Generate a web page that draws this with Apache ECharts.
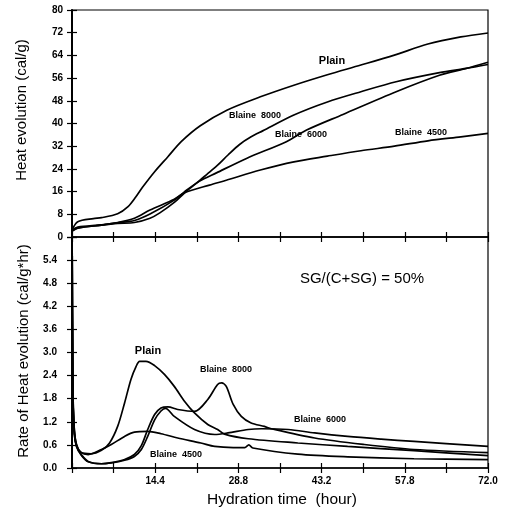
<!DOCTYPE html>
<html><head><meta charset="utf-8">
<script src="https://cdn.jsdelivr.net/npm/echarts@6/dist/echarts.min.js"></script>
<style>html,body{margin:0;padding:0;background:#fff}#c{width:511px;height:512px}</style>
</head><body><div id="c"></div>
<script>
// ---- tick labels ----
const xTickLabels = ["", "", "14.4", "", "28.8", "", "43.2", "", "57.8", "", "72.0"];
const heatTicks = [0, 8, 16, 24, 32, 40, 48, 56, 64, 72, 80];
const rateTicks = ["0.0", "0.6", "1.2", "1.8", "2.4", "3.0", "3.6", "4.2", "4.8", "5.4", ""];
const seriesNames = ["Plain", "Blaine 8000", "Blaine 6000", "Blaine 4500"];

// ---- heat evolution (cal/g) vs hydration time (hour) ----
const heatPlain = [[0,2.5],[1.0,5.4],[3.7,6.5],[5.1,6.8],[7.9,8.2],[9.7,10.7],[11,14.0],[12.2,17.5],[14.3,23.0],[16.6,28.3],[18.9,33.6],[22.2,39.2],[26.8,44.7],[32.6,49.4],[38.4,53.5],[44.2,57.2],[50,60.6],[55.8,64.1],[61.6,68.0],[67.3,70.5],[72,71.9]];
const heat8000 = [[0,2.0],[1.0,3.1],[5.1,4.2],[7.9,4.8],[10.8,5.1],[13.5,6.6],[15.2,8.5],[17.7,12.2],[19.5,15.6],[21.5,18.9],[23.3,22.0],[25.2,25.3],[27,28.9],[29,32.6],[31,35.3],[33,37.4],[38.4,43],[44.2,47.6],[50,51.2],[56.1,54.7],[63.6,57.9],[68.2,59.4],[72,60.8]];
const heat6000 = [[0,2.2],[1.0,3.2],[5.1,4.2],[7.9,5.0],[10.8,5.8],[13.5,8.1],[17.7,13.0],[19.5,16.0],[22,19.6],[25,22.6],[30.2,27.7],[37.1,33.6],[40.6,37.7],[46.9,43.2],[56.1,51.2],[63.6,57.0],[68.2,59.4],[72,61.6]];
const heat4500 = [[0,2.5],[1.0,3.5],[5.1,4.3],[7.9,5.1],[10.8,6.6],[13.5,9.5],[17.7,13.3],[19.5,15.6],[23.8,18.3],[26.7,20.0],[32.6,23.6],[38.4,26.5],[44.2,28.5],[50,30.4],[55.8,32.0],[61.6,33.9],[67.3,35.3],[72,36.5]];

// ---- rate of heat evolution (cal/g*hr) vs hydration time (hour) ----
const ratePlain = [[0,7],[0.15,2.2],[0.4,1.0],[0.8,0.6],[1.6,0.4],[3.3,0.37],[5.1,0.46],[6.5,0.65],[7.9,1.08],[9.1,1.69],[10.2,2.30],[11.1,2.64],[11.7,2.77],[12.8,2.77],[14.3,2.66],[16.0,2.43],[17.7,2.12],[19.5,1.73],[21.2,1.43],[23.5,1.13],[25.2,1.0],[26.4,0.88],[30.5,0.76],[39.1,0.65],[47.7,0.56],[59.2,0.45],[72,0.32]];
const rate8000 = [[0,7],[0.15,2.0],[0.4,0.9],[0.8,0.55],[1.6,0.33],[2.8,0.16],[5.1,0.11],[6.8,0.14],[9.1,0.22],[10.8,0.35],[12,0.58],[13.1,1.0],[14.3,1.39],[15.4,1.56],[16.6,1.59],[18.3,1.52],[21.2,1.47],[23.5,1.78],[25.2,2.17],[25.9,2.21],[26.7,2.12],[27.9,1.65],[29.3,1.34],[31,1.17],[33.3,1.08],[34.5,1.02],[42,0.78],[50.6,0.61],[59.2,0.48],[72,0.40]];
const rate6000 = [[0,7],[0.15,2.0],[0.4,0.9],[0.8,0.55],[1.6,0.35],[2.8,0.17],[5.1,0.11],[6.8,0.13],[9.1,0.20],[10.8,0.30],[12,0.48],[13.1,0.82],[14.3,1.25],[15.4,1.48],[16.2,1.55],[17.7,1.34],[21.2,1.0],[24.7,0.87],[27,0.91],[30.5,1.0],[32.8,1.02],[37.4,1.0],[42,0.91],[47.7,0.82],[53.5,0.75],[59.2,0.69],[72,0.56]];
const rate4500 = [[0,7],[0.15,2.1],[0.4,1.0],[0.8,0.6],[1.6,0.40],[2.8,0.35],[5.1,0.48],[6.8,0.61],[9.1,0.82],[10.8,0.93],[13.1,0.95],[15.4,0.89],[18.3,0.78],[22.3,0.65],[24.7,0.56],[27.9,0.53],[29.9,0.53],[30.6,0.60],[31.3,0.52],[39.1,0.36],[47.7,0.29],[59.2,0.24],[72,0.22]];

const chart = echarts.init(document.getElementById('c'), null, {renderer: 'canvas'});
const FONT = 'Liberation Sans, Arial, sans-serif';
const lineW = 1.7;
const tickStyle = {color: '#000', width: 1.2};
const lab = {color: '#000', fontFamily: FONT, fontSize: 10, fontWeight: 'bold'};

function xAx(grid, inside, showLabel) {
  return {
    gridIndex: grid, type: 'value', min: 0, max: 72, interval: 7.2, position: 'bottom',
    axisLine: {show: !inside, onZero: false, lineStyle: {color: '#000', width: 1.5}},
    axisTick: {show: true, inside: inside, length: 5, lineStyle: tickStyle},
    axisLabel: {show: showLabel, ...lab, margin: 8,
      formatter: v => xTickLabels[Math.round(v / 7.2)] || ''},
    splitLine: {show: false}
  };
}
function yAx(grid, inside, max, interval, fmt, margin) {
  return {
    gridIndex: grid, type: 'value', min: 0, max: max, interval: interval, position: 'left',
    axisLine: {show: !inside, onZero: false, lineStyle: {color: '#000', width: 2}},
    axisTick: {show: true, inside: inside, length: 5, lineStyle: tickStyle},
    axisLabel: {show: !inside && !!fmt, ...lab, margin: margin, formatter: fmt},
    splitLine: {show: false}
  };
}
function ser(data, xi, yi) {
  return {type: 'line', data: data, xAxisIndex: xi, yAxisIndex: yi, symbol: 'none',
    smooth: 0.3, clip: true, lineStyle: {color: '#000', width: lineW}};
}
function txt(text, x, y, size, weight, rot) {
  return {type: 'text', x: x, y: y, rotation: rot || 0, z: 100,
    style: {text: text, x: 0, y: 0, fill: '#000', font: (weight || 'normal') + ' ' + size + 'px ' + FONT,
      textAlign: 'center', textVerticalAlign: 'middle'}};
}

chart.setOption({
  backgroundColor: '#fff',
  animation: false,
  grid: [
    {left: 72, top: 10, width: 416, height: 227, show: true, borderColor: '#000', borderWidth: 1.2},
    {left: 72, top: 237, width: 416, height: 231, show: true, borderColor: '#000', borderWidth: 1.2}
  ],
  xAxis: [xAx(0, false, false), xAx(0, true, false), xAx(1, false, true), xAx(1, true, false)],
  yAxis: [
    yAx(0, false, 80, 8, v => String(heatTicks[Math.round(v / 8)]), 9),
    yAx(0, true, 80, 8, null, 9),
    yAx(1, false, 6, 0.6, v => rateTicks[Math.round(v / 0.6)], 15),
    yAx(1, true, 6, 0.6, null, 15)
  ],
  series: [
    ser(heatPlain, 0, 0), ser(heat8000, 0, 0), ser(heat6000, 0, 0), ser(heat4500, 0, 0),
    ser(ratePlain, 2, 2), ser(rate8000, 2, 2), ser(rate6000, 2, 2), ser(rate4500, 2, 2)
  ],
  graphic: [
    txt('Heat evolution (cal/g)', 22, 110, 15, 'normal', Math.PI / 2),
    txt('Rate of Heat evolution (cal/g*hr)', 24, 351, 15, 'normal', Math.PI / 2),
    txt('Hydration time  (hour)', 282, 500, 15.5, 'normal'),
    txt('SG/(C+SG) = 50%', 362, 279, 15, 'normal'),
    txt(seriesNames[0], 332, 61, 11, 'bold'),
    txt(seriesNames[1].replace(' ', '  '), 255, 116, 9, 'bold'),
    txt(seriesNames[2].replace(' ', '  '), 301, 135, 9, 'bold'),
    txt(seriesNames[3].replace(' ', '  '), 421, 133, 9, 'bold'),
    txt(seriesNames[0], 148, 351, 11, 'bold'),
    txt(seriesNames[1].replace(' ', '  '), 226, 370, 9, 'bold'),
    txt(seriesNames[2].replace(' ', '  '), 320, 420, 9, 'bold'),
    txt(seriesNames[3].replace(' ', '  '), 176, 455, 9, 'bold')
  ]
});
</script>
</body></html>
